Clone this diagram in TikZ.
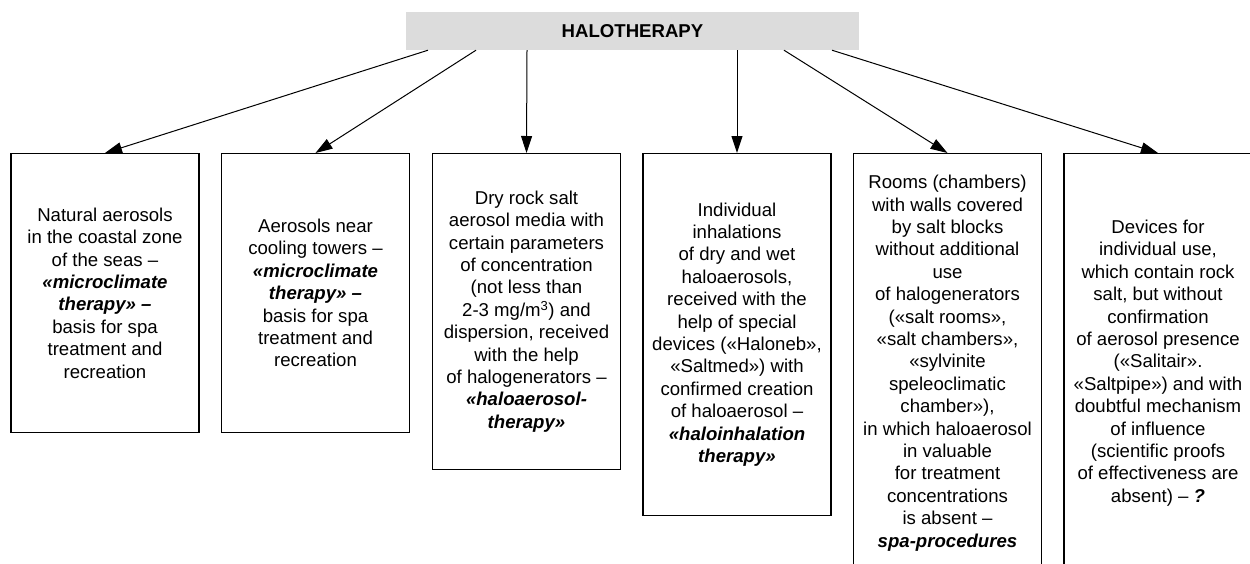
\documentclass[tikz,border=0pt]{standalone}
\usepackage{fontspec}
\setmainfont{Liberation Sans}
\usetikzlibrary{arrows.meta}
\definecolor{topgray}{RGB}{220,220,220}
\newcommand{\emphbi}[1]{\textbf{\textit{#1}}}
\begin{document}
\begin{tikzpicture}[x=1pt,y=-1pt,
  every node/.style={font=\fontsize{18.6}{22.4}\selectfont},
  catbox/.style={draw=black, line width=1.1pt, rectangle, minimum width=188pt, inner sep=0pt, align=center, anchor=north},
  topbox/.style={fill=topgray, rectangle, minimum width=453pt, minimum height=38pt, inner sep=0pt, font=\fontsize{18.6}{22.4}\selectfont\bfseries},
  arr/.style={line width=1pt, -{Triangle[length=17pt,width=11pt]}}]
\clip (0,0) rectangle (1250,563);
\node[topbox] (top) at (632.5,31) {HALOTHERAPY};

\node[catbox, minimum height=279pt] (b1) at (105,153) {Natural aerosols\\in the coastal zone\\of the seas –\\\emphbi{«microclimate}\\\emphbi{therapy» –}\\basis for spa\\treatment and\\recreation};

\node[catbox, minimum height=279pt] (b2) at (315.5,153) {Aerosols near\\cooling towers –\\\emphbi{«microclimate}\\\emphbi{therapy» –}\\basis for spa\\treatment and\\recreation};

\node[catbox, minimum height=316pt] (b3) at (526.5,153) {Dry rock salt\\aerosol media with\\certain parameters\\of concentration\\(not less than\\2-3 mg/m\textsuperscript{3}) and\\dispersion, received\\with the help\\of halogenerators –\\\emphbi{«haloaerosol-}\\\emphbi{therapy»}};

\node[catbox, minimum height=362pt] (b4) at (737,153) {Individual\\inhalations\\of dry and wet\\haloaerosols,\\received with the\\help of special\\devices («Haloneb»,\\«Saltmed») with\\confirmed creation\\of haloaerosol –\\\emphbi{«haloinhalation}\\\emphbi{therapy»}};

\node[catbox, minimum height=419pt] (b5) at (947.5,153) {Rooms (chambers)\\with walls covered\\by salt blocks\\without additional\\use\\of halogenerators\\(«salt rooms»,\\«salt chambers»,\\«sylvinite\\speleoclimatic\\chamber»),\\in which haloaerosol\\in valuable\\for treatment\\concentrations\\is absent –\\\emphbi{spa-procedures}};

\node[catbox, minimum height=419pt] (b6) at (1158,153) {Devices for\\individual use,\\which contain rock\\salt, but without\\confirmation\\of aerosol presence\\(«Salitair».\\«Saltpipe») and with\\doubtful mechanism\\of influence\\(scientific proofs\\of effectiveness are\\absent) – \emphbi{?}};

\draw[arr] ([xshift=-204.5pt]top.south) -- (b1.north);
\draw[arr] ([xshift=-156.5pt]top.south) -- (b2.north);
\draw[arr] ([xshift=-105.5pt]top.south) -- (b3.north);
\draw[arr] ([xshift=104.5pt]top.south) -- (b4.north);
\draw[arr] ([xshift=151.5pt]top.south) -- (b5.north);
\draw[arr] ([xshift=199.5pt]top.south) -- (b6.north);
\end{tikzpicture}
\end{document}
